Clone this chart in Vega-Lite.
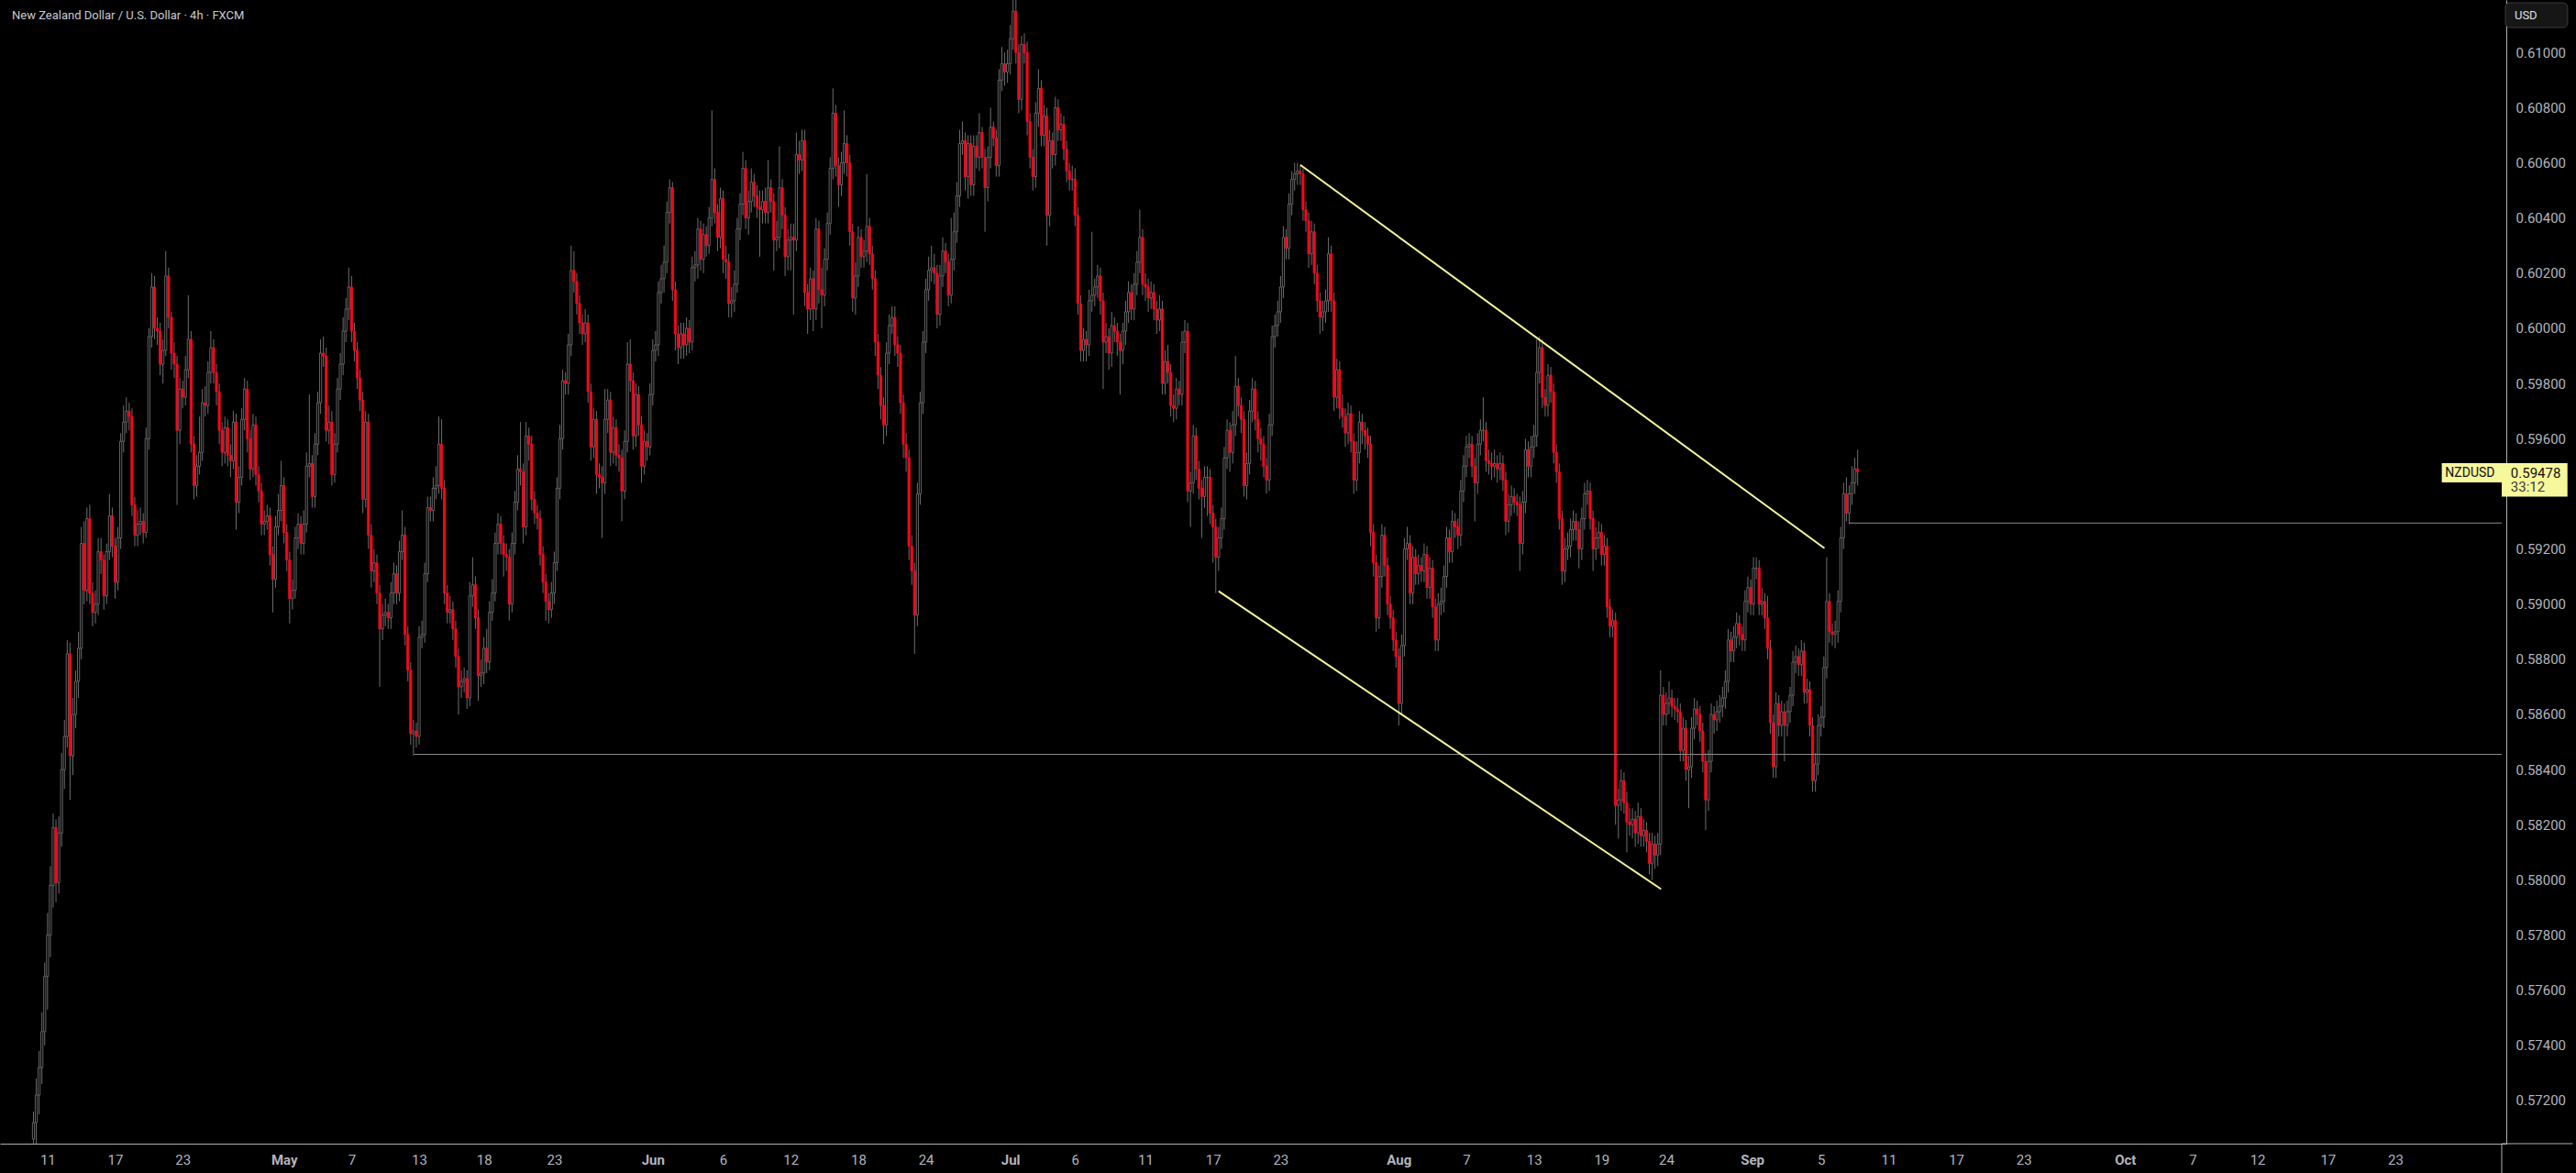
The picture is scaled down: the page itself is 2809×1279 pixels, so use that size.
{
"$schema": "https://vega.github.io/schema/vega-lite/v6.json",
"width": 2733, "height": 1247,
"autosize": {"type": "none"},
"padding": {"left": 0, "top": 0, "right": 76, "bottom": 32},
"background": "#000000",
"config": {"view": {"stroke": null}, "font": "Roboto"},
"datasets": {"bars": [
{"i":0,"o":0.5706,"h":0.5716,"l":0.5703,"c":0.5712},
{"i":1,"o":0.5712,"h":0.5728,"l":0.5704,"c":0.5722},
{"i":2,"o":0.5722,"h":0.5738,"l":0.5715,"c":0.5732},
{"i":3,"o":0.5732,"h":0.5752,"l":0.5726,"c":0.5745},
{"i":4,"o":0.5745,"h":0.5770,"l":0.5740,"c":0.5765},
{"i":5,"o":0.5765,"h":0.5788,"l":0.5753,"c":0.5780},
{"i":6,"o":0.5780,"h":0.5805,"l":0.5772,"c":0.5798},
{"i":7,"o":0.5798,"h":0.5824,"l":0.5790,"c":0.5819},
{"i":8,"o":0.5819,"h":0.5822,"l":0.5792,"c":0.5799},
{"i":9,"o":0.5799,"h":0.5823,"l":0.5795,"c":0.5817},
{"i":10,"o":0.5817,"h":0.5846,"l":0.5812,"c":0.5840},
{"i":11,"o":0.5840,"h":0.5858,"l":0.5833,"c":0.5852},
{"i":12,"o":0.5852,"h":0.5887,"l":0.5848,"c":0.5882},
{"i":13,"o":0.5882,"h":0.5886,"l":0.5829,"c":0.5845},
{"i":14,"o":0.5845,"h":0.5866,"l":0.5838,"c":0.5860},
{"i":15,"o":0.5860,"h":0.5876,"l":0.5855,"c":0.5872},
{"i":16,"o":0.5872,"h":0.5890,"l":0.5866,"c":0.5884},
{"i":17,"o":0.5884,"h":0.5928,"l":0.5880,"c":0.5922},
{"i":18,"o":0.5922,"h":0.5930,"l":0.5900,"c":0.5905},
{"i":19,"o":0.5905,"h":0.5935,"l":0.5901,"c":0.5931},
{"i":20,"o":0.5931,"h":0.5936,"l":0.5900,"c":0.5904},
{"i":21,"o":0.5904,"h":0.5908,"l":0.5892,"c":0.5897},
{"i":22,"o":0.5897,"h":0.5905,"l":0.5893,"c":0.5900},
{"i":23,"o":0.5900,"h":0.5924,"l":0.5896,"c":0.5919},
{"i":24,"o":0.5919,"h":0.5924,"l":0.5911,"c":0.5916},
{"i":25,"o":0.5916,"h":0.5918,"l":0.5898,"c":0.5903},
{"i":26,"o":0.5903,"h":0.5922,"l":0.5900,"c":0.5919},
{"i":27,"o":0.5919,"h":0.5940,"l":0.5916,"c":0.5932},
{"i":28,"o":0.5932,"h":0.5935,"l":0.5917,"c":0.5921},
{"i":29,"o":0.5921,"h":0.5924,"l":0.5902,"c":0.5908},
{"i":30,"o":0.5908,"h":0.5928,"l":0.5905,"c":0.5924},
{"i":31,"o":0.5924,"h":0.5962,"l":0.5920,"c":0.5959},
{"i":32,"o":0.5959,"h":0.5972,"l":0.5955,"c":0.5966},
{"i":33,"o":0.5966,"h":0.5975,"l":0.5962,"c":0.5970},
{"i":34,"o":0.5970,"h":0.5973,"l":0.5963,"c":0.5968},
{"i":35,"o":0.5968,"h":0.5971,"l":0.5932,"c":0.5936},
{"i":36,"o":0.5936,"h":0.5939,"l":0.5921,"c":0.5925},
{"i":37,"o":0.5925,"h":0.5934,"l":0.5921,"c":0.5929},
{"i":38,"o":0.5929,"h":0.5935,"l":0.5925,"c":0.5930},
{"i":39,"o":0.5930,"h":0.5933,"l":0.5922,"c":0.5926},
{"i":40,"o":0.5926,"h":0.5964,"l":0.5924,"c":0.5960},
{"i":41,"o":0.5960,"h":0.6000,"l":0.5956,"c":0.5997},
{"i":42,"o":0.5997,"h":0.6020,"l":0.5993,"c":0.6015},
{"i":43,"o":0.6015,"h":0.6019,"l":0.5996,"c":0.6000},
{"i":44,"o":0.6000,"h":0.6004,"l":0.5994,"c":0.5999},
{"i":45,"o":0.5999,"h":0.6002,"l":0.5983,"c":0.5987},
{"i":46,"o":0.5987,"h":0.5996,"l":0.5980,"c":0.5992},
{"i":47,"o":0.5992,"h":0.6028,"l":0.5990,"c":0.6019},
{"i":48,"o":0.6019,"h":0.6022,"l":0.6000,"c":0.6004},
{"i":49,"o":0.6004,"h":0.6006,"l":0.5985,"c":0.5991},
{"i":50,"o":0.5991,"h":0.5995,"l":0.5982,"c":0.5987},
{"i":51,"o":0.5987,"h":0.5990,"l":0.5936,"c":0.5963},
{"i":52,"o":0.5963,"h":0.5982,"l":0.5958,"c":0.5978},
{"i":53,"o":0.5978,"h":0.5981,"l":0.5971,"c":0.5975},
{"i":54,"o":0.5975,"h":0.5990,"l":0.5972,"c":0.5985},
{"i":55,"o":0.5985,"h":0.6012,"l":0.5982,"c":0.5996},
{"i":56,"o":0.5996,"h":0.5999,"l":0.5955,"c":0.5958},
{"i":57,"o":0.5958,"h":0.5961,"l":0.5938,"c":0.5943},
{"i":58,"o":0.5943,"h":0.5954,"l":0.5939,"c":0.5950},
{"i":59,"o":0.5950,"h":0.5968,"l":0.5947,"c":0.5955},
{"i":60,"o":0.5955,"h":0.5978,"l":0.5952,"c":0.5973},
{"i":61,"o":0.5973,"h":0.5979,"l":0.5968,"c":0.5972},
{"i":62,"o":0.5972,"h":0.5988,"l":0.5969,"c":0.5984},
{"i":63,"o":0.5984,"h":0.5999,"l":0.5980,"c":0.5993},
{"i":64,"o":0.5993,"h":0.5996,"l":0.5980,"c":0.5984},
{"i":65,"o":0.5984,"h":0.5987,"l":0.5972,"c":0.5977},
{"i":66,"o":0.5977,"h":0.5980,"l":0.5958,"c":0.5963},
{"i":67,"o":0.5963,"h":0.5966,"l":0.5950,"c":0.5955},
{"i":68,"o":0.5955,"h":0.5968,"l":0.5951,"c":0.5964},
{"i":69,"o":0.5964,"h":0.5967,"l":0.5950,"c":0.5954},
{"i":70,"o":0.5954,"h":0.5958,"l":0.5946,"c":0.5952},
{"i":71,"o":0.5952,"h":0.5970,"l":0.5949,"c":0.5966},
{"i":72,"o":0.5966,"h":0.5969,"l":0.5927,"c":0.5937},
{"i":73,"o":0.5937,"h":0.5950,"l":0.5933,"c":0.5946},
{"i":74,"o":0.5946,"h":0.5971,"l":0.5943,"c":0.5967},
{"i":75,"o":0.5967,"h":0.5982,"l":0.5963,"c":0.5978},
{"i":76,"o":0.5978,"h":0.5981,"l":0.5955,"c":0.5960},
{"i":77,"o":0.5960,"h":0.5963,"l":0.5945,"c":0.5949},
{"i":78,"o":0.5949,"h":0.5969,"l":0.5946,"c":0.5965},
{"i":79,"o":0.5965,"h":0.5968,"l":0.5943,"c":0.5947},
{"i":80,"o":0.5947,"h":0.5950,"l":0.5937,"c":0.5941},
{"i":81,"o":0.5941,"h":0.5944,"l":0.5925,"c":0.5929},
{"i":82,"o":0.5929,"h":0.5934,"l":0.5925,"c":0.5930},
{"i":83,"o":0.5930,"h":0.5936,"l":0.5927,"c":0.5932},
{"i":84,"o":0.5932,"h":0.5935,"l":0.5914,"c":0.5918},
{"i":85,"o":0.5918,"h":0.5921,"l":0.5897,"c":0.5909},
{"i":86,"o":0.5909,"h":0.5932,"l":0.5906,"c":0.5928},
{"i":87,"o":0.5928,"h":0.5940,"l":0.5925,"c":0.5934},
{"i":88,"o":0.5934,"h":0.5952,"l":0.5930,"c":0.5943},
{"i":89,"o":0.5943,"h":0.5946,"l":0.5922,"c":0.5926},
{"i":90,"o":0.5926,"h":0.5929,"l":0.5912,"c":0.5916},
{"i":91,"o":0.5916,"h":0.5919,"l":0.5893,"c":0.5902},
{"i":92,"o":0.5902,"h":0.5909,"l":0.5898,"c":0.5905},
{"i":93,"o":0.5905,"h":0.5928,"l":0.5902,"c":0.5924},
{"i":94,"o":0.5924,"h":0.5933,"l":0.5920,"c":0.5929},
{"i":95,"o":0.5929,"h":0.5932,"l":0.5918,"c":0.5922},
{"i":96,"o":0.5922,"h":0.5934,"l":0.5918,"c":0.5929},
{"i":97,"o":0.5929,"h":0.5955,"l":0.5926,"c":0.5950},
{"i":98,"o":0.5950,"h":0.5976,"l":0.5946,"c":0.5951},
{"i":99,"o":0.5951,"h":0.5954,"l":0.5935,"c":0.5939},
{"i":100,"o":0.5939,"h":0.5962,"l":0.5935,"c":0.5958},
{"i":101,"o":0.5958,"h":0.5977,"l":0.5954,"c":0.5973},
{"i":102,"o":0.5973,"h":0.5996,"l":0.5969,"c":0.5991},
{"i":103,"o":0.5991,"h":0.5997,"l":0.5986,"c":0.5990},
{"i":104,"o":0.5990,"h":0.5993,"l":0.5959,"c":0.5963},
{"i":105,"o":0.5963,"h":0.5972,"l":0.5958,"c":0.5966},
{"i":106,"o":0.5966,"h":0.5970,"l":0.5943,"c":0.5947},
{"i":107,"o":0.5947,"h":0.5962,"l":0.5944,"c":0.5958},
{"i":108,"o":0.5958,"h":0.5982,"l":0.5955,"c":0.5978},
{"i":109,"o":0.5978,"h":0.5991,"l":0.5974,"c":0.5987},
{"i":110,"o":0.5987,"h":0.6004,"l":0.5983,"c":0.5999},
{"i":111,"o":0.5999,"h":0.6011,"l":0.5995,"c":0.6007},
{"i":112,"o":0.6007,"h":0.6022,"l":0.6003,"c":0.6015},
{"i":113,"o":0.6015,"h":0.6019,"l":0.5995,"c":0.5999},
{"i":114,"o":0.5999,"h":0.6002,"l":0.5988,"c":0.5992},
{"i":115,"o":0.5992,"h":0.5995,"l":0.5978,"c":0.5982},
{"i":116,"o":0.5982,"h":0.5985,"l":0.5970,"c":0.5974},
{"i":117,"o":0.5974,"h":0.5977,"l":0.5933,"c":0.5938},
{"i":118,"o":0.5938,"h":0.5970,"l":0.5935,"c":0.5966},
{"i":119,"o":0.5966,"h":0.5969,"l":0.5920,"c":0.5925},
{"i":120,"o":0.5925,"h":0.5929,"l":0.5906,"c":0.5912},
{"i":121,"o":0.5912,"h":0.5920,"l":0.5908,"c":0.5915},
{"i":122,"o":0.5915,"h":0.5918,"l":0.5900,"c":0.5904},
{"i":123,"o":0.5904,"h":0.5907,"l":0.5870,"c":0.5891},
{"i":124,"o":0.5891,"h":0.5900,"l":0.5887,"c":0.5896},
{"i":125,"o":0.5896,"h":0.5902,"l":0.5892,"c":0.5897},
{"i":126,"o":0.5897,"h":0.5900,"l":0.5891,"c":0.5895},
{"i":127,"o":0.5895,"h":0.5908,"l":0.5891,"c":0.5904},
{"i":128,"o":0.5904,"h":0.5915,"l":0.5900,"c":0.5911},
{"i":129,"o":0.5911,"h":0.5914,"l":0.5900,"c":0.5904},
{"i":130,"o":0.5904,"h":0.5923,"l":0.5901,"c":0.5919},
{"i":131,"o":0.5919,"h":0.5934,"l":0.5916,"c":0.5925},
{"i":132,"o":0.5925,"h":0.5928,"l":0.5885,"c":0.5889},
{"i":133,"o":0.5889,"h":0.5892,"l":0.5872,"c":0.5876},
{"i":134,"o":0.5876,"h":0.5879,"l":0.5849,"c":0.5853},
{"i":135,"o":0.5853,"h":0.5858,"l":0.5845,"c":0.5854},
{"i":136,"o":0.5854,"h":0.5857,"l":0.5848,"c":0.5852},
{"i":137,"o":0.5852,"h":0.5892,"l":0.5849,"c":0.5888},
{"i":138,"o":0.5888,"h":0.5894,"l":0.5884,"c":0.5889},
{"i":139,"o":0.5889,"h":0.5915,"l":0.5886,"c":0.5911},
{"i":140,"o":0.5911,"h":0.5939,"l":0.5908,"c":0.5935},
{"i":141,"o":0.5935,"h":0.5939,"l":0.5930,"c":0.5934},
{"i":142,"o":0.5934,"h":0.5946,"l":0.5930,"c":0.5942},
{"i":143,"o":0.5942,"h":0.5950,"l":0.5938,"c":0.5943},
{"i":144,"o":0.5943,"h":0.5968,"l":0.5940,"c":0.5958},
{"i":145,"o":0.5958,"h":0.5967,"l":0.5938,"c":0.5942},
{"i":146,"o":0.5942,"h":0.5945,"l":0.5900,"c":0.5904},
{"i":147,"o":0.5904,"h":0.5907,"l":0.5893,"c":0.5897},
{"i":148,"o":0.5897,"h":0.5903,"l":0.5893,"c":0.5898},
{"i":149,"o":0.5898,"h":0.5901,"l":0.5887,"c":0.5891},
{"i":150,"o":0.5891,"h":0.5894,"l":0.5877,"c":0.5881},
{"i":151,"o":0.5881,"h":0.5884,"l":0.5860,"c":0.5870},
{"i":152,"o":0.5870,"h":0.5876,"l":0.5866,"c":0.5872},
{"i":153,"o":0.5872,"h":0.5877,"l":0.5868,"c":0.5873},
{"i":154,"o":0.5873,"h":0.5876,"l":0.5862,"c":0.5866},
{"i":155,"o":0.5866,"h":0.5908,"l":0.5863,"c":0.5903},
{"i":156,"o":0.5903,"h":0.5917,"l":0.5899,"c":0.5907},
{"i":157,"o":0.5907,"h":0.5910,"l":0.5891,"c":0.5895},
{"i":158,"o":0.5895,"h":0.5898,"l":0.5865,"c":0.5874},
{"i":159,"o":0.5874,"h":0.5880,"l":0.5870,"c":0.5875},
{"i":160,"o":0.5875,"h":0.5888,"l":0.5871,"c":0.5884},
{"i":161,"o":0.5884,"h":0.5891,"l":0.5875,"c":0.5879},
{"i":162,"o":0.5879,"h":0.5901,"l":0.5876,"c":0.5897},
{"i":163,"o":0.5897,"h":0.5909,"l":0.5894,"c":0.5904},
{"i":164,"o":0.5904,"h":0.5926,"l":0.5901,"c":0.5922},
{"i":165,"o":0.5922,"h":0.5933,"l":0.5918,"c":0.5929},
{"i":166,"o":0.5929,"h":0.5932,"l":0.5918,"c":0.5922},
{"i":167,"o":0.5922,"h":0.5925,"l":0.5910,"c":0.5918},
{"i":168,"o":0.5918,"h":0.5922,"l":0.5912,"c":0.5917},
{"i":169,"o":0.5917,"h":0.5920,"l":0.5894,"c":0.5900},
{"i":170,"o":0.5900,"h":0.5926,"l":0.5897,"c":0.5922},
{"i":171,"o":0.5922,"h":0.5941,"l":0.5918,"c":0.5937},
{"i":172,"o":0.5937,"h":0.5954,"l":0.5934,"c":0.5949},
{"i":173,"o":0.5949,"h":0.5966,"l":0.5943,"c":0.5948},
{"i":174,"o":0.5948,"h":0.5951,"l":0.5922,"c":0.5928},
{"i":175,"o":0.5928,"h":0.5966,"l":0.5925,"c":0.5961},
{"i":176,"o":0.5961,"h":0.5964,"l":0.5952,"c":0.5958},
{"i":177,"o":0.5958,"h":0.5961,"l":0.5934,"c":0.5938},
{"i":178,"o":0.5938,"h":0.5941,"l":0.5929,"c":0.5933},
{"i":179,"o":0.5933,"h":0.5936,"l":0.5927,"c":0.5931},
{"i":180,"o":0.5931,"h":0.5934,"l":0.5914,"c":0.5918},
{"i":181,"o":0.5918,"h":0.5921,"l":0.5904,"c":0.5908},
{"i":182,"o":0.5908,"h":0.5911,"l":0.5894,"c":0.5901},
{"i":183,"o":0.5901,"h":0.5904,"l":0.5893,"c":0.5898},
{"i":184,"o":0.5898,"h":0.5908,"l":0.5895,"c":0.5904},
{"i":185,"o":0.5904,"h":0.5919,"l":0.5900,"c":0.5915},
{"i":186,"o":0.5915,"h":0.5946,"l":0.5912,"c":0.5942},
{"i":187,"o":0.5942,"h":0.5965,"l":0.5938,"c":0.5960},
{"i":188,"o":0.5960,"h":0.5985,"l":0.5956,"c":0.5981},
{"i":189,"o":0.5981,"h":0.5984,"l":0.5976,"c":0.5980},
{"i":190,"o":0.5980,"h":0.5998,"l":0.5976,"c":0.5994},
{"i":191,"o":0.5994,"h":0.6030,"l":0.5990,"c":0.6021},
{"i":192,"o":0.6021,"h":0.6028,"l":0.6013,"c":0.6017},
{"i":193,"o":0.6017,"h":0.6020,"l":0.6005,"c":0.6009},
{"i":194,"o":0.6009,"h":0.6012,"l":0.5998,"c":0.6002},
{"i":195,"o":0.6002,"h":0.6005,"l":0.5994,"c":0.5998},
{"i":196,"o":0.5998,"h":0.6007,"l":0.5995,"c":0.6002},
{"i":197,"o":0.6002,"h":0.6005,"l":0.5973,"c":0.5977},
{"i":198,"o":0.5977,"h":0.5980,"l":0.5952,"c":0.5957},
{"i":199,"o":0.5957,"h":0.5971,"l":0.5953,"c":0.5967},
{"i":200,"o":0.5967,"h":0.5970,"l":0.5940,"c":0.5947},
{"i":201,"o":0.5947,"h":0.5951,"l":0.5942,"c":0.5946},
{"i":202,"o":0.5946,"h":0.5950,"l":0.5924,"c":0.5944},
{"i":203,"o":0.5944,"h":0.5978,"l":0.5940,"c":0.5967},
{"i":204,"o":0.5967,"h":0.5978,"l":0.5962,"c":0.5974},
{"i":205,"o":0.5974,"h":0.5977,"l":0.5950,"c":0.5955},
{"i":206,"o":0.5955,"h":0.5968,"l":0.5951,"c":0.5964},
{"i":207,"o":0.5964,"h":0.5967,"l":0.5950,"c":0.5954},
{"i":208,"o":0.5954,"h":0.5958,"l":0.5948,"c":0.5953},
{"i":209,"o":0.5953,"h":0.5956,"l":0.5930,"c":0.5941},
{"i":210,"o":0.5941,"h":0.5963,"l":0.5938,"c":0.5959},
{"i":211,"o":0.5959,"h":0.5995,"l":0.5955,"c":0.5987},
{"i":212,"o":0.5987,"h":0.5996,"l":0.5977,"c":0.5981},
{"i":213,"o":0.5981,"h":0.5984,"l":0.5956,"c":0.5961},
{"i":214,"o":0.5961,"h":0.5980,"l":0.5957,"c":0.5976},
{"i":215,"o":0.5976,"h":0.5979,"l":0.5961,"c":0.5965},
{"i":216,"o":0.5965,"h":0.5968,"l":0.5944,"c":0.5950},
{"i":217,"o":0.5950,"h":0.5963,"l":0.5947,"c":0.5959},
{"i":218,"o":0.5959,"h":0.5962,"l":0.5952,"c":0.5957},
{"i":219,"o":0.5957,"h":0.5980,"l":0.5954,"c":0.5976},
{"i":220,"o":0.5976,"h":0.5996,"l":0.5972,"c":0.5992},
{"i":221,"o":0.5992,"h":0.5999,"l":0.5988,"c":0.5994},
{"i":222,"o":0.5994,"h":0.6017,"l":0.5990,"c":0.6013},
{"i":223,"o":0.6013,"h":0.6023,"l":0.6009,"c":0.6018},
{"i":224,"o":0.6018,"h":0.6030,"l":0.6013,"c":0.6024},
{"i":225,"o":0.6024,"h":0.6046,"l":0.6020,"c":0.6042},
{"i":226,"o":0.6042,"h":0.6054,"l":0.6038,"c":0.6051},
{"i":227,"o":0.6051,"h":0.6053,"l":0.6010,"c":0.6014},
{"i":228,"o":0.6014,"h":0.6017,"l":0.5992,"c":0.5998},
{"i":229,"o":0.5998,"h":0.6001,"l":0.5987,"c":0.5993},
{"i":230,"o":0.5993,"h":0.6002,"l":0.5989,"c":0.5998},
{"i":231,"o":0.5998,"h":0.6002,"l":0.5989,"c":0.5994},
{"i":232,"o":0.5994,"h":0.6004,"l":0.5990,"c":0.6000},
{"i":233,"o":0.6000,"h":0.6003,"l":0.5991,"c":0.5995},
{"i":234,"o":0.5995,"h":0.6026,"l":0.5992,"c":0.6022},
{"i":235,"o":0.6022,"h":0.6028,"l":0.6017,"c":0.6023},
{"i":236,"o":0.6023,"h":0.6040,"l":0.6018,"c":0.6036},
{"i":237,"o":0.6036,"h":0.6039,"l":0.6021,"c":0.6025},
{"i":238,"o":0.6025,"h":0.6038,"l":0.6020,"c":0.6034},
{"i":239,"o":0.6034,"h":0.6037,"l":0.6026,"c":0.6030},
{"i":240,"o":0.6030,"h":0.6044,"l":0.6027,"c":0.6040},
{"i":241,"o":0.6040,"h":0.6079,"l":0.6037,"c":0.6054},
{"i":242,"o":0.6054,"h":0.6058,"l":0.6038,"c":0.6042},
{"i":243,"o":0.6042,"h":0.6045,"l":0.6028,"c":0.6033},
{"i":244,"o":0.6033,"h":0.6051,"l":0.6029,"c":0.6047},
{"i":245,"o":0.6047,"h":0.6050,"l":0.6020,"c":0.6025},
{"i":246,"o":0.6025,"h":0.6030,"l":0.6018,"c":0.6024},
{"i":247,"o":0.6024,"h":0.6027,"l":0.6004,"c":0.6009},
{"i":248,"o":0.6009,"h":0.6015,"l":0.6004,"c":0.6010},
{"i":249,"o":0.6010,"h":0.6021,"l":0.6006,"c":0.6016},
{"i":250,"o":0.6016,"h":0.6040,"l":0.6013,"c":0.6036},
{"i":251,"o":0.6036,"h":0.6049,"l":0.6032,"c":0.6045},
{"i":252,"o":0.6045,"h":0.6064,"l":0.6041,"c":0.6058},
{"i":253,"o":0.6058,"h":0.6061,"l":0.6036,"c":0.6040},
{"i":254,"o":0.6040,"h":0.6050,"l":0.6034,"c":0.6046},
{"i":255,"o":0.6046,"h":0.6058,"l":0.6042,"c":0.6053},
{"i":256,"o":0.6053,"h":0.6056,"l":0.6044,"c":0.6048},
{"i":257,"o":0.6048,"h":0.6052,"l":0.6040,"c":0.6044},
{"i":258,"o":0.6044,"h":0.6050,"l":0.6026,"c":0.6043},
{"i":259,"o":0.6043,"h":0.6050,"l":0.6038,"c":0.6046},
{"i":260,"o":0.6046,"h":0.6051,"l":0.6038,"c":0.6042},
{"i":261,"o":0.6042,"h":0.6061,"l":0.6038,"c":0.6051},
{"i":262,"o":0.6051,"h":0.6054,"l":0.6042,"c":0.6046},
{"i":263,"o":0.6046,"h":0.6049,"l":0.6021,"c":0.6032},
{"i":264,"o":0.6032,"h":0.6039,"l":0.6028,"c":0.6033},
{"i":265,"o":0.6033,"h":0.6066,"l":0.6029,"c":0.6051},
{"i":266,"o":0.6051,"h":0.6054,"l":0.6036,"c":0.6041},
{"i":267,"o":0.6041,"h":0.6044,"l":0.6019,"c":0.6026},
{"i":268,"o":0.6026,"h":0.6036,"l":0.6021,"c":0.6032},
{"i":269,"o":0.6032,"h":0.6038,"l":0.6021,"c":0.6033},
{"i":270,"o":0.6033,"h":0.6038,"l":0.6005,"c":0.6032},
{"i":271,"o":0.6032,"h":0.6071,"l":0.6028,"c":0.6063},
{"i":272,"o":0.6063,"h":0.6068,"l":0.6056,"c":0.6061},
{"i":273,"o":0.6061,"h":0.6072,"l":0.6057,"c":0.6068},
{"i":274,"o":0.6068,"h":0.6072,"l":0.6008,"c":0.6013},
{"i":275,"o":0.6013,"h":0.6016,"l":0.5998,"c":0.6007},
{"i":276,"o":0.6007,"h":0.6022,"l":0.6003,"c":0.6018},
{"i":277,"o":0.6018,"h":0.6021,"l":0.5999,"c":0.6007},
{"i":278,"o":0.6007,"h":0.6040,"l":0.6003,"c":0.6036},
{"i":279,"o":0.6036,"h":0.6039,"l":0.6009,"c":0.6014},
{"i":280,"o":0.6014,"h":0.6022,"l":0.6000,"c":0.6012},
{"i":281,"o":0.6012,"h":0.6029,"l":0.6008,"c":0.6025},
{"i":282,"o":0.6025,"h":0.6042,"l":0.6021,"c":0.6038},
{"i":283,"o":0.6038,"h":0.6062,"l":0.6034,"c":0.6058},
{"i":284,"o":0.6058,"h":0.6087,"l":0.6054,"c":0.6078},
{"i":285,"o":0.6078,"h":0.6081,"l":0.6055,"c":0.6059},
{"i":286,"o":0.6059,"h":0.6062,"l":0.6044,"c":0.6052},
{"i":287,"o":0.6052,"h":0.6064,"l":0.6048,"c":0.6060},
{"i":288,"o":0.6060,"h":0.6079,"l":0.6056,"c":0.6067},
{"i":289,"o":0.6067,"h":0.6070,"l":0.6055,"c":0.6060},
{"i":290,"o":0.6060,"h":0.6063,"l":0.6030,"c":0.6035},
{"i":291,"o":0.6035,"h":0.6038,"l":0.6006,"c":0.6011},
{"i":292,"o":0.6011,"h":0.6024,"l":0.6005,"c":0.6019},
{"i":293,"o":0.6019,"h":0.6037,"l":0.6015,"c":0.6033},
{"i":294,"o":0.6033,"h":0.6036,"l":0.6022,"c":0.6026},
{"i":295,"o":0.6026,"h":0.6032,"l":0.6022,"c":0.6028},
{"i":296,"o":0.6028,"h":0.6056,"l":0.6024,"c":0.6037},
{"i":297,"o":0.6037,"h":0.6040,"l":0.6023,"c":0.6027},
{"i":298,"o":0.6027,"h":0.6030,"l":0.6014,"c":0.6018},
{"i":299,"o":0.6018,"h":0.6021,"l":0.5990,"c":0.5995},
{"i":300,"o":0.5995,"h":0.5998,"l":0.5978,"c":0.5983},
{"i":301,"o":0.5983,"h":0.5986,"l":0.5967,"c":0.5972},
{"i":302,"o":0.5972,"h":0.5975,"l":0.5958,"c":0.5965},
{"i":303,"o":0.5965,"h":0.5995,"l":0.5961,"c":0.5991},
{"i":304,"o":0.5991,"h":0.6005,"l":0.5987,"c":0.6001},
{"i":305,"o":0.6001,"h":0.6008,"l":0.5998,"c":0.6004},
{"i":306,"o":0.6004,"h":0.6008,"l":0.5990,"c":0.5994},
{"i":307,"o":0.5994,"h":0.5997,"l":0.5986,"c":0.5991},
{"i":308,"o":0.5991,"h":0.5994,"l":0.5969,"c":0.5973},
{"i":309,"o":0.5973,"h":0.5976,"l":0.5953,"c":0.5958},
{"i":310,"o":0.5958,"h":0.5962,"l":0.5948,"c":0.5953},
{"i":311,"o":0.5953,"h":0.5956,"l":0.5916,"c":0.5921},
{"i":312,"o":0.5921,"h":0.5925,"l":0.5907,"c":0.5912},
{"i":313,"o":0.5912,"h":0.5915,"l":0.5882,"c":0.5896},
{"i":314,"o":0.5896,"h":0.5944,"l":0.5892,"c":0.5940},
{"i":315,"o":0.5940,"h":0.5977,"l":0.5936,"c":0.5973},
{"i":316,"o":0.5973,"h":0.5999,"l":0.5969,"c":0.5995},
{"i":317,"o":0.5995,"h":0.6018,"l":0.5991,"c":0.6014},
{"i":318,"o":0.6014,"h":0.6026,"l":0.6010,"c":0.6021},
{"i":319,"o":0.6021,"h":0.6030,"l":0.6017,"c":0.6022},
{"i":320,"o":0.6022,"h":0.6027,"l":0.6016,"c":0.6020},
{"i":321,"o":0.6020,"h":0.6023,"l":0.6000,"c":0.6005},
{"i":322,"o":0.6005,"h":0.6023,"l":0.6001,"c":0.6019},
{"i":323,"o":0.6019,"h":0.6033,"l":0.6015,"c":0.6028},
{"i":324,"o":0.6028,"h":0.6031,"l":0.6020,"c":0.6024},
{"i":325,"o":0.6024,"h":0.6027,"l":0.6008,"c":0.6012},
{"i":326,"o":0.6012,"h":0.6040,"l":0.6009,"c":0.6025},
{"i":327,"o":0.6025,"h":0.6042,"l":0.6021,"c":0.6035},
{"i":328,"o":0.6035,"h":0.6053,"l":0.6031,"c":0.6048},
{"i":329,"o":0.6048,"h":0.6072,"l":0.6044,"c":0.6067},
{"i":330,"o":0.6067,"h":0.6075,"l":0.6063,"c":0.6068},
{"i":331,"o":0.6068,"h":0.6071,"l":0.6050,"c":0.6055},
{"i":332,"o":0.6055,"h":0.6070,"l":0.6047,"c":0.6067},
{"i":333,"o":0.6067,"h":0.6070,"l":0.6048,"c":0.6052},
{"i":334,"o":0.6052,"h":0.6070,"l":0.6048,"c":0.6066},
{"i":335,"o":0.6066,"h":0.6070,"l":0.6058,"c":0.6062},
{"i":336,"o":0.6062,"h":0.6078,"l":0.6057,"c":0.6071},
{"i":337,"o":0.6071,"h":0.6073,"l":0.6058,"c":0.6062},
{"i":338,"o":0.6062,"h":0.6065,"l":0.6035,"c":0.6051},
{"i":339,"o":0.6051,"h":0.6066,"l":0.6046,"c":0.6062},
{"i":340,"o":0.6062,"h":0.6080,"l":0.6058,"c":0.6073},
{"i":341,"o":0.6073,"h":0.6075,"l":0.6066,"c":0.6069},
{"i":342,"o":0.6069,"h":0.6072,"l":0.6055,"c":0.6059},
{"i":343,"o":0.6059,"h":0.6094,"l":0.6055,"c":0.6090},
{"i":344,"o":0.6090,"h":0.6102,"l":0.6086,"c":0.6096},
{"i":345,"o":0.6096,"h":0.6100,"l":0.6088,"c":0.6093},
{"i":346,"o":0.6093,"h":0.6101,"l":0.6089,"c":0.6096},
{"i":347,"o":0.6096,"h":0.6110,"l":0.6092,"c":0.6105},
{"i":348,"o":0.6105,"h":0.6125,"l":0.6101,"c":0.6115},
{"i":349,"o":0.6115,"h":0.6123,"l":0.6096,"c":0.6100},
{"i":350,"o":0.6100,"h":0.6103,"l":0.6078,"c":0.6083},
{"i":351,"o":0.6083,"h":0.6106,"l":0.6079,"c":0.6103},
{"i":352,"o":0.6103,"h":0.6107,"l":0.6096,"c":0.6100},
{"i":353,"o":0.6100,"h":0.6104,"l":0.6070,"c":0.6075},
{"i":354,"o":0.6075,"h":0.6078,"l":0.6058,"c":0.6062},
{"i":355,"o":0.6062,"h":0.6065,"l":0.6050,"c":0.6055},
{"i":356,"o":0.6055,"h":0.6082,"l":0.6051,"c":0.6078},
{"i":357,"o":0.6078,"h":0.6094,"l":0.6073,"c":0.6087},
{"i":358,"o":0.6087,"h":0.6090,"l":0.6066,"c":0.6070},
{"i":359,"o":0.6070,"h":0.6081,"l":0.6066,"c":0.6077},
{"i":360,"o":0.6077,"h":0.6080,"l":0.6030,"c":0.6041},
{"i":361,"o":0.6041,"h":0.6072,"l":0.6037,"c":0.6068},
{"i":362,"o":0.6068,"h":0.6071,"l":0.6058,"c":0.6063},
{"i":363,"o":0.6063,"h":0.6084,"l":0.6059,"c":0.6080},
{"i":364,"o":0.6080,"h":0.6083,"l":0.6068,"c":0.6072},
{"i":365,"o":0.6072,"h":0.6078,"l":0.6068,"c":0.6074},
{"i":366,"o":0.6074,"h":0.6077,"l":0.6061,"c":0.6065},
{"i":367,"o":0.6065,"h":0.6068,"l":0.6053,"c":0.6057},
{"i":368,"o":0.6057,"h":0.6060,"l":0.6050,"c":0.6054},
{"i":369,"o":0.6054,"h":0.6059,"l":0.6050,"c":0.6054},
{"i":370,"o":0.6054,"h":0.6058,"l":0.6037,"c":0.6041},
{"i":371,"o":0.6041,"h":0.6044,"l":0.6005,"c":0.6009},
{"i":372,"o":0.6009,"h":0.6012,"l":0.5988,"c":0.5992},
{"i":373,"o":0.5992,"h":0.6000,"l":0.5988,"c":0.5996},
{"i":374,"o":0.5996,"h":0.5999,"l":0.5988,"c":0.5994},
{"i":375,"o":0.5994,"h":0.6014,"l":0.5990,"c":0.6010},
{"i":376,"o":0.6010,"h":0.6035,"l":0.6006,"c":0.6012},
{"i":377,"o":0.6012,"h":0.6018,"l":0.6008,"c":0.6015},
{"i":378,"o":0.6015,"h":0.6023,"l":0.6011,"c":0.6019},
{"i":379,"o":0.6019,"h":0.6022,"l":0.6005,"c":0.6010},
{"i":380,"o":0.6010,"h":0.6013,"l":0.5978,"c":0.5995},
{"i":381,"o":0.5995,"h":0.6002,"l":0.5991,"c":0.5997},
{"i":382,"o":0.5997,"h":0.6000,"l":0.5985,"c":0.5991},
{"i":383,"o":0.5991,"h":0.6006,"l":0.5986,"c":0.6001},
{"i":384,"o":0.6001,"h":0.6004,"l":0.5995,"c":0.5999},
{"i":385,"o":0.5999,"h":0.6002,"l":0.5990,"c":0.5995},
{"i":386,"o":0.5995,"h":0.5998,"l":0.5976,"c":0.5992},
{"i":387,"o":0.5992,"h":0.6002,"l":0.5987,"c":0.5999},
{"i":388,"o":0.5999,"h":0.6010,"l":0.5994,"c":0.6006},
{"i":389,"o":0.6006,"h":0.6017,"l":0.6002,"c":0.6013},
{"i":390,"o":0.6013,"h":0.6016,"l":0.6003,"c":0.6007},
{"i":391,"o":0.6007,"h":0.6020,"l":0.6003,"c":0.6016},
{"i":392,"o":0.6016,"h":0.6028,"l":0.6012,"c":0.6024},
{"i":393,"o":0.6024,"h":0.6043,"l":0.6020,"c":0.6033},
{"i":394,"o":0.6033,"h":0.6036,"l":0.6012,"c":0.6016},
{"i":395,"o":0.6016,"h":0.6020,"l":0.6010,"c":0.6015},
{"i":396,"o":0.6015,"h":0.6018,"l":0.6006,"c":0.6011},
{"i":397,"o":0.6011,"h":0.6017,"l":0.6007,"c":0.6013},
{"i":398,"o":0.6013,"h":0.6016,"l":0.6003,"c":0.6007},
{"i":399,"o":0.6007,"h":0.6010,"l":0.5998,"c":0.6003},
{"i":400,"o":0.6003,"h":0.6012,"l":0.5999,"c":0.6007},
{"i":401,"o":0.6007,"h":0.6010,"l":0.5976,"c":0.5980},
{"i":402,"o":0.5980,"h":0.5992,"l":0.5976,"c":0.5988},
{"i":403,"o":0.5988,"h":0.5994,"l":0.5980,"c":0.5984},
{"i":404,"o":0.5984,"h":0.5987,"l":0.5968,"c":0.5972},
{"i":405,"o":0.5972,"h":0.5976,"l":0.5966,"c":0.5971},
{"i":406,"o":0.5971,"h":0.5982,"l":0.5967,"c":0.5978},
{"i":407,"o":0.5978,"h":0.5981,"l":0.5972,"c":0.5976},
{"i":408,"o":0.5976,"h":0.5999,"l":0.5972,"c":0.5995},
{"i":409,"o":0.5995,"h":0.6003,"l":0.5991,"c":0.5999},
{"i":410,"o":0.5999,"h":0.6002,"l":0.5937,"c":0.5941},
{"i":411,"o":0.5941,"h":0.5948,"l":0.5928,"c":0.5944},
{"i":412,"o":0.5944,"h":0.5965,"l":0.5940,"c":0.5961},
{"i":413,"o":0.5961,"h":0.5964,"l":0.5945,"c":0.5949},
{"i":414,"o":0.5949,"h":0.5952,"l":0.5938,"c":0.5942},
{"i":415,"o":0.5942,"h":0.5945,"l":0.5924,"c":0.5939},
{"i":416,"o":0.5939,"h":0.5950,"l":0.5935,"c":0.5946},
{"i":417,"o":0.5946,"h":0.5950,"l":0.5932,"c":0.5946},
{"i":418,"o":0.5946,"h":0.5949,"l":0.5929,"c":0.5933},
{"i":419,"o":0.5933,"h":0.5936,"l":0.5915,"c":0.5928},
{"i":420,"o":0.5928,"h":0.5931,"l":0.5904,"c":0.5917},
{"i":421,"o":0.5917,"h":0.5928,"l":0.5912,"c":0.5924},
{"i":422,"o":0.5924,"h":0.5935,"l":0.5920,"c":0.5931},
{"i":423,"o":0.5931,"h":0.5957,"l":0.5927,"c":0.5953},
{"i":424,"o":0.5953,"h":0.5967,"l":0.5949,"c":0.5963},
{"i":425,"o":0.5963,"h":0.5966,"l":0.5948,"c":0.5955},
{"i":426,"o":0.5955,"h":0.5970,"l":0.5951,"c":0.5965},
{"i":427,"o":0.5965,"h":0.5990,"l":0.5961,"c":0.5979},
{"i":428,"o":0.5979,"h":0.5982,"l":0.5968,"c":0.5972},
{"i":429,"o":0.5972,"h":0.5975,"l":0.5962,"c":0.5967},
{"i":430,"o":0.5967,"h":0.5970,"l":0.5939,"c":0.5943},
{"i":431,"o":0.5943,"h":0.5955,"l":0.5938,"c":0.5951},
{"i":432,"o":0.5951,"h":0.5974,"l":0.5947,"c":0.5970},
{"i":433,"o":0.5970,"h":0.5982,"l":0.5966,"c":0.5978},
{"i":434,"o":0.5978,"h":0.5981,"l":0.5963,"c":0.5967},
{"i":435,"o":0.5967,"h":0.5970,"l":0.5955,"c":0.5960},
{"i":436,"o":0.5960,"h":0.5964,"l":0.5952,"c":0.5958},
{"i":437,"o":0.5958,"h":0.5961,"l":0.5946,"c":0.5950},
{"i":438,"o":0.5950,"h":0.5953,"l":0.5940,"c":0.5945},
{"i":439,"o":0.5945,"h":0.5969,"l":0.5941,"c":0.5965},
{"i":440,"o":0.5965,"h":0.6001,"l":0.5961,"c":0.5997},
{"i":441,"o":0.5997,"h":0.6005,"l":0.5993,"c":0.6001},
{"i":442,"o":0.6001,"h":0.6010,"l":0.5997,"c":0.6006},
{"i":443,"o":0.6006,"h":0.6019,"l":0.6002,"c":0.6015},
{"i":444,"o":0.6015,"h":0.6037,"l":0.6011,"c":0.6033},
{"i":445,"o":0.6033,"h":0.6036,"l":0.6025,"c":0.6029},
{"i":446,"o":0.6029,"h":0.6049,"l":0.6025,"c":0.6045},
{"i":447,"o":0.6045,"h":0.6057,"l":0.6041,"c":0.6054},
{"i":448,"o":0.6054,"h":0.6060,"l":0.6050,"c":0.6056},
{"i":449,"o":0.6056,"h":0.6060,"l":0.6052,"c":0.6057},
{"i":450,"o":0.6057,"h":0.6059,"l":0.6052,"c":0.6056},
{"i":451,"o":0.6056,"h":0.6058,"l":0.6039,"c":0.6043},
{"i":452,"o":0.6043,"h":0.6046,"l":0.6035,"c":0.6039},
{"i":453,"o":0.6039,"h":0.6042,"l":0.6022,"c":0.6027},
{"i":454,"o":0.6027,"h":0.6039,"l":0.6023,"c":0.6035},
{"i":455,"o":0.6035,"h":0.6038,"l":0.6016,"c":0.6020},
{"i":456,"o":0.6020,"h":0.6023,"l":0.6006,"c":0.6010},
{"i":457,"o":0.6010,"h":0.6013,"l":0.5998,"c":0.6004},
{"i":458,"o":0.6004,"h":0.6010,"l":0.5999,"c":0.6006},
{"i":459,"o":0.6006,"h":0.6014,"l":0.6002,"c":0.6010},
{"i":460,"o":0.6010,"h":0.6033,"l":0.6006,"c":0.6027},
{"i":461,"o":0.6027,"h":0.6030,"l":0.6006,"c":0.6010},
{"i":462,"o":0.6010,"h":0.6013,"l":0.5970,"c":0.5975},
{"i":463,"o":0.5975,"h":0.5989,"l":0.5971,"c":0.5985},
{"i":464,"o":0.5985,"h":0.5988,"l":0.5967,"c":0.5971},
{"i":465,"o":0.5971,"h":0.5976,"l":0.5964,"c":0.5968},
{"i":466,"o":0.5968,"h":0.5971,"l":0.5957,"c":0.5962},
{"i":467,"o":0.5962,"h":0.5973,"l":0.5958,"c":0.5969},
{"i":468,"o":0.5969,"h":0.5972,"l":0.5955,"c":0.5959},
{"i":469,"o":0.5959,"h":0.5962,"l":0.5940,"c":0.5945},
{"i":470,"o":0.5945,"h":0.5959,"l":0.5941,"c":0.5955},
{"i":471,"o":0.5955,"h":0.5970,"l":0.5951,"c":0.5966},
{"i":472,"o":0.5966,"h":0.5969,"l":0.5958,"c":0.5963},
{"i":473,"o":0.5963,"h":0.5966,"l":0.5956,"c":0.5961},
{"i":474,"o":0.5961,"h":0.5964,"l":0.5953,"c":0.5958},
{"i":475,"o":0.5958,"h":0.5961,"l":0.5921,"c":0.5926},
{"i":476,"o":0.5926,"h":0.5929,"l":0.5910,"c":0.5915},
{"i":477,"o":0.5915,"h":0.5918,"l":0.5890,"c":0.5895},
{"i":478,"o":0.5895,"h":0.5914,"l":0.5891,"c":0.5910},
{"i":479,"o":0.5910,"h":0.5929,"l":0.5906,"c":0.5925},
{"i":480,"o":0.5925,"h":0.5928,"l":0.5910,"c":0.5914},
{"i":481,"o":0.5914,"h":0.5917,"l":0.5896,"c":0.5900},
{"i":482,"o":0.5900,"h":0.5903,"l":0.5891,"c":0.5895},
{"i":483,"o":0.5895,"h":0.5898,"l":0.5883,"c":0.5887},
{"i":484,"o":0.5887,"h":0.5890,"l":0.5877,"c":0.5881},
{"i":485,"o":0.5881,"h":0.5884,"l":0.5856,"c":0.5864},
{"i":486,"o":0.5864,"h":0.5889,"l":0.5860,"c":0.5885},
{"i":487,"o":0.5885,"h":0.5924,"l":0.5881,"c":0.5920},
{"i":488,"o":0.5920,"h":0.5928,"l":0.5916,"c":0.5922},
{"i":489,"o":0.5922,"h":0.5925,"l":0.5900,"c":0.5904},
{"i":490,"o":0.5904,"h":0.5921,"l":0.5900,"c":0.5917},
{"i":491,"o":0.5917,"h":0.5920,"l":0.5907,"c":0.5911},
{"i":492,"o":0.5911,"h":0.5918,"l":0.5907,"c":0.5914},
{"i":493,"o":0.5914,"h":0.5917,"l":0.5908,"c":0.5912},
{"i":494,"o":0.5912,"h":0.5922,"l":0.5908,"c":0.5918},
{"i":495,"o":0.5918,"h":0.5921,"l":0.5902,"c":0.5906},
{"i":496,"o":0.5906,"h":0.5917,"l":0.5902,"c":0.5913},
{"i":497,"o":0.5913,"h":0.5916,"l":0.5895,"c":0.5899},
{"i":498,"o":0.5899,"h":0.5902,"l":0.5883,"c":0.5887},
{"i":499,"o":0.5887,"h":0.5904,"l":0.5883,"c":0.5900},
{"i":500,"o":0.5900,"h":0.5906,"l":0.5896,"c":0.5901},
{"i":501,"o":0.5901,"h":0.5914,"l":0.5897,"c":0.5910},
{"i":502,"o":0.5910,"h":0.5928,"l":0.5906,"c":0.5924},
{"i":503,"o":0.5924,"h":0.5927,"l":0.5915,"c":0.5919},
{"i":504,"o":0.5919,"h":0.5934,"l":0.5915,"c":0.5930},
{"i":505,"o":0.5930,"h":0.5933,"l":0.5924,"c":0.5928},
{"i":506,"o":0.5928,"h":0.5931,"l":0.5920,"c":0.5925},
{"i":507,"o":0.5925,"h":0.5945,"l":0.5921,"c":0.5941},
{"i":508,"o":0.5941,"h":0.5954,"l":0.5937,"c":0.5950},
{"i":509,"o":0.5950,"h":0.5961,"l":0.5946,"c":0.5957},
{"i":510,"o":0.5957,"h":0.5962,"l":0.5953,"c":0.5958},
{"i":511,"o":0.5958,"h":0.5961,"l":0.5946,"c":0.5950},
{"i":512,"o":0.5950,"h":0.5953,"l":0.5930,"c":0.5944},
{"i":513,"o":0.5944,"h":0.5962,"l":0.5940,"c":0.5958},
{"i":514,"o":0.5958,"h":0.5967,"l":0.5954,"c":0.5963},
{"i":515,"o":0.5963,"h":0.5975,"l":0.5959,"c":0.5963},
{"i":516,"o":0.5963,"h":0.5966,"l":0.5948,"c":0.5952},
{"i":517,"o":0.5952,"h":0.5956,"l":0.5947,"c":0.5951},
{"i":518,"o":0.5951,"h":0.5955,"l":0.5945,"c":0.5950},
{"i":519,"o":0.5950,"h":0.5956,"l":0.5946,"c":0.5951},
{"i":520,"o":0.5951,"h":0.5954,"l":0.5944,"c":0.5949},
{"i":521,"o":0.5949,"h":0.5955,"l":0.5945,"c":0.5951},
{"i":522,"o":0.5951,"h":0.5954,"l":0.5941,"c":0.5945},
{"i":523,"o":0.5945,"h":0.5948,"l":0.5925,"c":0.5930},
{"i":524,"o":0.5930,"h":0.5940,"l":0.5926,"c":0.5936},
{"i":525,"o":0.5936,"h":0.5943,"l":0.5932,"c":0.5939},
{"i":526,"o":0.5939,"h":0.5942,"l":0.5933,"c":0.5937},
{"i":527,"o":0.5937,"h":0.5940,"l":0.5932,"c":0.5936},
{"i":528,"o":0.5936,"h":0.5939,"l":0.5912,"c":0.5922},
{"i":529,"o":0.5922,"h":0.5941,"l":0.5918,"c":0.5937},
{"i":530,"o":0.5937,"h":0.5960,"l":0.5933,"c":0.5956},
{"i":531,"o":0.5956,"h":0.5959,"l":0.5946,"c":0.5950},
{"i":532,"o":0.5950,"h":0.5961,"l":0.5946,"c":0.5957},
{"i":533,"o":0.5957,"h":0.5965,"l":0.5953,"c":0.5961},
{"i":534,"o":0.5961,"h":0.5996,"l":0.5957,"c":0.5984},
{"i":535,"o":0.5984,"h":0.5997,"l":0.5980,"c":0.5993},
{"i":536,"o":0.5993,"h":0.5996,"l":0.5971,"c":0.5975},
{"i":537,"o":0.5975,"h":0.5978,"l":0.5968,"c":0.5972},
{"i":538,"o":0.5972,"h":0.5987,"l":0.5968,"c":0.5983},
{"i":539,"o":0.5983,"h":0.5986,"l":0.5973,"c":0.5977},
{"i":540,"o":0.5977,"h":0.5980,"l":0.5951,"c":0.5955},
{"i":541,"o":0.5955,"h":0.5958,"l":0.5944,"c":0.5948},
{"i":542,"o":0.5948,"h":0.5951,"l":0.5927,"c":0.5931},
{"i":543,"o":0.5931,"h":0.5934,"l":0.5907,"c":0.5912},
{"i":544,"o":0.5912,"h":0.5924,"l":0.5908,"c":0.5920},
{"i":545,"o":0.5920,"h":0.5926,"l":0.5916,"c":0.5921},
{"i":546,"o":0.5921,"h":0.5931,"l":0.5917,"c":0.5927},
{"i":547,"o":0.5927,"h":0.5934,"l":0.5923,"c":0.5930},
{"i":548,"o":0.5930,"h":0.5933,"l":0.5923,"c":0.5927},
{"i":549,"o":0.5927,"h":0.5930,"l":0.5913,"c":0.5920},
{"i":550,"o":0.5920,"h":0.5935,"l":0.5916,"c":0.5931},
{"i":551,"o":0.5931,"h":0.5944,"l":0.5927,"c":0.5940},
{"i":552,"o":0.5940,"h":0.5945,"l":0.5936,"c":0.5941},
{"i":553,"o":0.5941,"h":0.5944,"l":0.5927,"c":0.5931},
{"i":554,"o":0.5931,"h":0.5934,"l":0.5912,"c":0.5920},
{"i":555,"o":0.5920,"h":0.5928,"l":0.5916,"c":0.5924},
{"i":556,"o":0.5924,"h":0.5930,"l":0.5920,"c":0.5926},
{"i":557,"o":0.5926,"h":0.5929,"l":0.5914,"c":0.5918},
{"i":558,"o":0.5918,"h":0.5925,"l":0.5914,"c":0.5921},
{"i":559,"o":0.5921,"h":0.5924,"l":0.5895,"c":0.5899},
{"i":560,"o":0.5899,"h":0.5902,"l":0.5888,"c":0.5892},
{"i":561,"o":0.5892,"h":0.5898,"l":0.5888,"c":0.5894},
{"i":562,"o":0.5894,"h":0.5897,"l":0.5820,"c":0.5827},
{"i":563,"o":0.5827,"h":0.5833,"l":0.5815,"c":0.5829},
{"i":564,"o":0.5829,"h":0.5840,"l":0.5825,"c":0.5836},
{"i":565,"o":0.5836,"h":0.5839,"l":0.5824,"c":0.5828},
{"i":566,"o":0.5828,"h":0.5832,"l":0.5810,"c":0.5821},
{"i":567,"o":0.5821,"h":0.5826,"l":0.5816,"c":0.5820},
{"i":568,"o":0.5820,"h":0.5826,"l":0.5815,"c":0.5822},
{"i":569,"o":0.5822,"h":0.5825,"l":0.5812,"c":0.5817},
{"i":570,"o":0.5817,"h":0.5828,"l":0.5813,"c":0.5823},
{"i":571,"o":0.5823,"h":0.5826,"l":0.5812,"c":0.5816},
{"i":572,"o":0.5816,"h":0.5822,"l":0.5812,"c":0.5818},
{"i":573,"o":0.5818,"h":0.5821,"l":0.5810,"c":0.5814},
{"i":574,"o":0.5814,"h":0.5817,"l":0.5802,"c":0.5806},
{"i":575,"o":0.5806,"h":0.5817,"l":0.5800,"c":0.5813},
{"i":576,"o":0.5813,"h":0.5816,"l":0.5804,"c":0.5809},
{"i":577,"o":0.5809,"h":0.5817,"l":0.5805,"c":0.5813},
{"i":578,"o":0.5813,"h":0.5876,"l":0.5809,"c":0.5867},
{"i":579,"o":0.5867,"h":0.5870,"l":0.5856,"c":0.5860},
{"i":580,"o":0.5860,"h":0.5868,"l":0.5856,"c":0.5864},
{"i":581,"o":0.5864,"h":0.5872,"l":0.5860,"c":0.5866},
{"i":582,"o":0.5866,"h":0.5869,"l":0.5859,"c":0.5863},
{"i":583,"o":0.5863,"h":0.5866,"l":0.5858,"c":0.5862},
{"i":584,"o":0.5862,"h":0.5866,"l":0.5857,"c":0.5861},
{"i":585,"o":0.5861,"h":0.5864,"l":0.5843,"c":0.5847},
{"i":586,"o":0.5847,"h":0.5859,"l":0.5843,"c":0.5855},
{"i":587,"o":0.5855,"h":0.5858,"l":0.5836,"c":0.5840},
{"i":588,"o":0.5840,"h":0.5845,"l":0.5826,"c":0.5841},
{"i":589,"o":0.5841,"h":0.5859,"l":0.5837,"c":0.5855},
{"i":590,"o":0.5855,"h":0.5866,"l":0.5851,"c":0.5862},
{"i":591,"o":0.5862,"h":0.5865,"l":0.5856,"c":0.5860},
{"i":592,"o":0.5860,"h":0.5863,"l":0.5850,"c":0.5854},
{"i":593,"o":0.5854,"h":0.5857,"l":0.5839,"c":0.5843},
{"i":594,"o":0.5843,"h":0.5846,"l":0.5818,"c":0.5829},
{"i":595,"o":0.5829,"h":0.5847,"l":0.5825,"c":0.5843},
{"i":596,"o":0.5843,"h":0.5864,"l":0.5839,"c":0.5860},
{"i":597,"o":0.5860,"h":0.5863,"l":0.5853,"c":0.5858},
{"i":598,"o":0.5858,"h":0.5865,"l":0.5854,"c":0.5861},
{"i":599,"o":0.5861,"h":0.5867,"l":0.5857,"c":0.5863},
{"i":600,"o":0.5863,"h":0.5870,"l":0.5859,"c":0.5866},
{"i":601,"o":0.5866,"h":0.5876,"l":0.5862,"c":0.5872},
{"i":602,"o":0.5872,"h":0.5891,"l":0.5868,"c":0.5887},
{"i":603,"o":0.5887,"h":0.5890,"l":0.5879,"c":0.5883},
{"i":604,"o":0.5883,"h":0.5892,"l":0.5879,"c":0.5888},
{"i":605,"o":0.5888,"h":0.5897,"l":0.5884,"c":0.5893},
{"i":606,"o":0.5893,"h":0.5896,"l":0.5885,"c":0.5889},
{"i":607,"o":0.5889,"h":0.5892,"l":0.5883,"c":0.5887},
{"i":608,"o":0.5887,"h":0.5905,"l":0.5883,"c":0.5901},
{"i":609,"o":0.5901,"h":0.5910,"l":0.5897,"c":0.5906},
{"i":610,"o":0.5906,"h":0.5909,"l":0.5896,"c":0.5900},
{"i":611,"o":0.5900,"h":0.5917,"l":0.5896,"c":0.5913},
{"i":612,"o":0.5913,"h":0.5917,"l":0.5909,"c":0.5913},
{"i":613,"o":0.5913,"h":0.5916,"l":0.5896,"c":0.5900},
{"i":614,"o":0.5900,"h":0.5906,"l":0.5896,"c":0.5901},
{"i":615,"o":0.5901,"h":0.5904,"l":0.5891,"c":0.5895},
{"i":616,"o":0.5895,"h":0.5903,"l":0.5880,"c":0.5884},
{"i":617,"o":0.5884,"h":0.5887,"l":0.5853,"c":0.5857},
{"i":618,"o":0.5857,"h":0.5860,"l":0.5837,"c":0.5841},
{"i":619,"o":0.5841,"h":0.5868,"l":0.5837,"c":0.5864},
{"i":620,"o":0.5864,"h":0.5867,"l":0.5852,"c":0.5856},
{"i":621,"o":0.5856,"h":0.5865,"l":0.5852,"c":0.5861},
{"i":622,"o":0.5861,"h":0.5864,"l":0.5843,"c":0.5856},
{"i":623,"o":0.5856,"h":0.5865,"l":0.5852,"c":0.5861},
{"i":624,"o":0.5861,"h":0.5870,"l":0.5857,"c":0.5867},
{"i":625,"o":0.5867,"h":0.5883,"l":0.5863,"c":0.5879},
{"i":626,"o":0.5879,"h":0.5885,"l":0.5875,"c":0.5881},
{"i":627,"o":0.5881,"h":0.5884,"l":0.5874,"c":0.5878},
{"i":628,"o":0.5878,"h":0.5887,"l":0.5874,"c":0.5883},
{"i":629,"o":0.5883,"h":0.5886,"l":0.5864,"c":0.5868},
{"i":630,"o":0.5868,"h":0.5873,"l":0.5864,"c":0.5869},
{"i":631,"o":0.5869,"h":0.5872,"l":0.5852,"c":0.5856},
{"i":632,"o":0.5856,"h":0.5859,"l":0.5832,"c":0.5836},
{"i":633,"o":0.5836,"h":0.5846,"l":0.5832,"c":0.5842},
{"i":634,"o":0.5842,"h":0.5860,"l":0.5838,"c":0.5856},
{"i":635,"o":0.5856,"h":0.5863,"l":0.5852,"c":0.5859},
{"i":636,"o":0.5859,"h":0.5881,"l":0.5855,"c":0.5877},
{"i":637,"o":0.5877,"h":0.5917,"l":0.5873,"c":0.5901},
{"i":638,"o":0.5901,"h":0.5904,"l":0.5886,"c":0.5890},
{"i":639,"o":0.5890,"h":0.5893,"l":0.5885,"c":0.5889},
{"i":640,"o":0.5889,"h":0.5894,"l":0.5884,"c":0.5890},
{"i":641,"o":0.5890,"h":0.5905,"l":0.5886,"c":0.5901},
{"i":642,"o":0.5901,"h":0.5928,"l":0.5897,"c":0.5924},
{"i":643,"o":0.5924,"h":0.5944,"l":0.5920,"c":0.5940},
{"i":644,"o":0.5940,"h":0.5946,"l":0.5930,"c":0.5933},
{"i":645,"o":0.5933,"h":0.5943,"l":0.5929,"c":0.5940},
{"i":646,"o":0.5940,"h":0.5950,"l":0.5936,"c":0.5944},
{"i":647,"o":0.5944,"h":0.5953,"l":0.5940,"c":0.5949},
{"i":648,"o":0.5949,"h":0.5956,"l":0.5943,"c":0.5948}
]},
"layer": [
{"data": {"name": "bars"},
 "mark": {"type": "rule", "color": "#6e6e6e", "strokeWidth": 1, "clip": true},
 "encoding": {
  "x": {"field": "i", "type": "quantitative", "title": null, "scale": {"domain": [-10.256, 876.79], "nice": false, "zero": false},
   "axis": {"title": null, "values": [5,29,53,89,113,137,160,185,220,245,269,293,317,347,370,395,419,443,485,509,533,557,580,610.5,635,659,683,707,743,767,790,815,839],
    "labelExpr": "['11','17','23','May','7','13','18','23','Jun','6','12','18','24','Jul','6','11','17','23','Aug','7','13','19','24','Sep','5','11','17','23','Oct','7','12','17','23'][indexof([5,29,53,89,113,137,160,185,220,245,269,293,317,347,370,395,419,443,485,509,533,557,580,610.5,635,659,683,707,743,767,790,815,839], datum.value)]",
    "ticks": false, "grid": false, "domain": true, "domainColor": "#b0b0b0", "domainWidth": 1, "labelColor": "#b2b5be", "labelFont": "Roboto", "labelFontSize": 15, "labelPadding": 10, "labelOverlap": false, "labelFlush": false, "labelBound": false,
    "labelFontWeight": {"condition": {"test": "indexof([89,220,347,485,610.5,743], datum.value) >= 0", "value": "bold"}, "value": "normal"}}},
  "y": {"field": "l", "type": "quantitative", "title": null, "scale": {"domain": [0.570437, 0.611905], "nice": false, "zero": false},
   "axis": {"title": null, "orient": "right", "values": [0.572,0.574,0.576,0.578,0.58,0.582,0.584,0.586,0.588,0.59,0.592,0.596,0.598,0.6,0.602,0.604,0.606,0.608,0.61],
    "format": ".5f", "ticks": false, "grid": false, "domain": true, "domainColor": "#b0b0b0", "domainWidth": 1, "labelColor": "#b2b5be", "labelFont": "Roboto", "labelFontSize": 15, "labelPadding": 10, "labelAlign": "left"}},
  "y2": {"field": "h"}
 }},
{"data": {"name": "bars"},
 "mark": {"type": "bar", "orient": "vertical", "width": 2.2, "strokeWidth": 0.9, "clip": true},
 "encoding": {
  "x": {"field": "i", "type": "quantitative", "title": null},
  "y": {"field": "o", "type": "quantitative", "title": null},
  "y2": {"field": "c"},
  "fill": {"condition": {"test": "datum.c < datum.o", "value": "#f7071e"}, "value": "#000000"},
  "stroke": {"condition": {"test": "datum.c < datum.o", "value": "#f7071e"}, "value": "#6e6e6e"}
 }},
{"data": {"values": [{"a": 135.2, "b": 876.79, "p": 0.584553}, {"a": 645.0, "b": 876.79, "p": 0.59294}]},
 "mark": {"type": "rule", "color": "#8a8a8a", "strokeWidth": 1},
 "encoding": {"x": {"field": "a", "type": "quantitative", "title": null}, "x2": {"field": "b"}, "y": {"field": "p", "type": "quantitative", "title": null}}},
{"data": {"values": [{"a": 450.0, "pa": 0.605926, "b": 636.2, "pb": 0.592029}, {"a": 421.0, "pa": 0.590466, "b": 578.2, "pb": 0.579665}]},
 "mark": {"type": "rule", "color": "#f4f49a", "strokeWidth": 2},
 "encoding": {"x": {"field": "a", "type": "quantitative", "title": null}, "x2": {"field": "b"}, "y": {"field": "pa", "type": "quantitative", "title": null}, "y2": {"field": "pb"}}},
{"data": {"values": [{}]},
 "mark": {"type": "rule", "color": "#b0b0b0", "strokeWidth": 1, "clip": false},
 "encoding": {"x": {"datum": 876.79, "type": "quantitative"}, "y": {"datum": 0.570437, "type": "quantitative"}, "y2": {"datum": 0.56935}}},
{"data": {"values": [{}]},
 "mark": {"type": "rule", "color": "#b0b0b0", "strokeWidth": 1, "clip": false},
 "encoding": {"x": {"datum": 876.79, "type": "quantitative"}, "x2": {"datum": 902}, "y": {"datum": 0.570437, "type": "quantitative"}}},
{"data": {"values": [{}]},
 "mark": {"type": "text", "align": "left", "baseline": "alphabetic", "font": "Roboto", "fontSize": 13, "color": "#c8cad0"},
 "encoding": {"x": {"datum": -7.66, "type": "quantitative"}, "y": {"datum": 0.611217, "type": "quantitative"}, "text": {"value": "New Zealand Dollar / U.S. Dollar · 4h · FXCM"}}},
{"data": {"values": [{}]},
 "mark": {"type": "rect", "fill": "#161616", "stroke": "#3a3a3a", "strokeWidth": 1, "cornerRadius": 5, "clip": false},
 "encoding": {"x": {"datum": 878.1, "type": "quantitative"}, "x2": {"datum": 900.2}, "y": {"datum": 0.611805, "type": "quantitative"}, "y2": {"datum": 0.610907}}},
{"data": {"values": [{}]},
 "mark": {"type": "text", "align": "left", "baseline": "alphabetic", "font": "Roboto", "fontSize": 13, "color": "#e0e0e0"},
 "encoding": {"x": {"datum": 881.34, "type": "quantitative"}, "y": {"datum": 0.611217, "type": "quantitative"}, "text": {"value": "USD"}}},
{"data": {"values": [{}]},
 "mark": {"type": "rect", "fill": "#f7f79c", "clip": false},
 "encoding": {"x": {"datum": 855.5, "type": "quantitative"}, "x2": {"datum": 876.79}, "y": {"datum": 0.595112, "type": "quantitative"}, "y2": {"datum": 0.594413}}},
{"data": {"values": [{}]},
 "mark": {"type": "rect", "fill": "#f7f79c", "clip": false},
 "encoding": {"x": {"datum": 876.79, "type": "quantitative"}, "x2": {"datum": 900.15}, "y": {"datum": 0.595112, "type": "quantitative"}, "y2": {"datum": 0.593898}}},
{"data": {"values": [{}]},
 "mark": {"type": "text", "align": "left", "baseline": "alphabetic", "font": "Roboto", "fontSize": 14, "color": "#111111"},
 "encoding": {"x": {"datum": 856.7, "type": "quantitative"}, "y": {"datum": 0.594613, "type": "quantitative"}, "text": {"value": "NZDUSD"}}},
{"data": {"values": [{}]},
 "mark": {"type": "text", "align": "left", "baseline": "alphabetic", "font": "Roboto", "fontSize": 15, "color": "#111111"},
 "encoding": {"x": {"datum": 880.0, "type": "quantitative"}, "y": {"datum": 0.594589, "type": "quantitative"}, "text": {"value": "0.59478"}}},
{"data": {"values": [{}]},
 "mark": {"type": "text", "align": "left", "baseline": "alphabetic", "font": "Roboto", "fontSize": 15, "color": "#3a3a3a"},
 "encoding": {"x": {"datum": 880.0, "type": "quantitative"}, "y": {"datum": 0.594081, "type": "quantitative"}, "text": {"value": "33:12"}}}
]
}
